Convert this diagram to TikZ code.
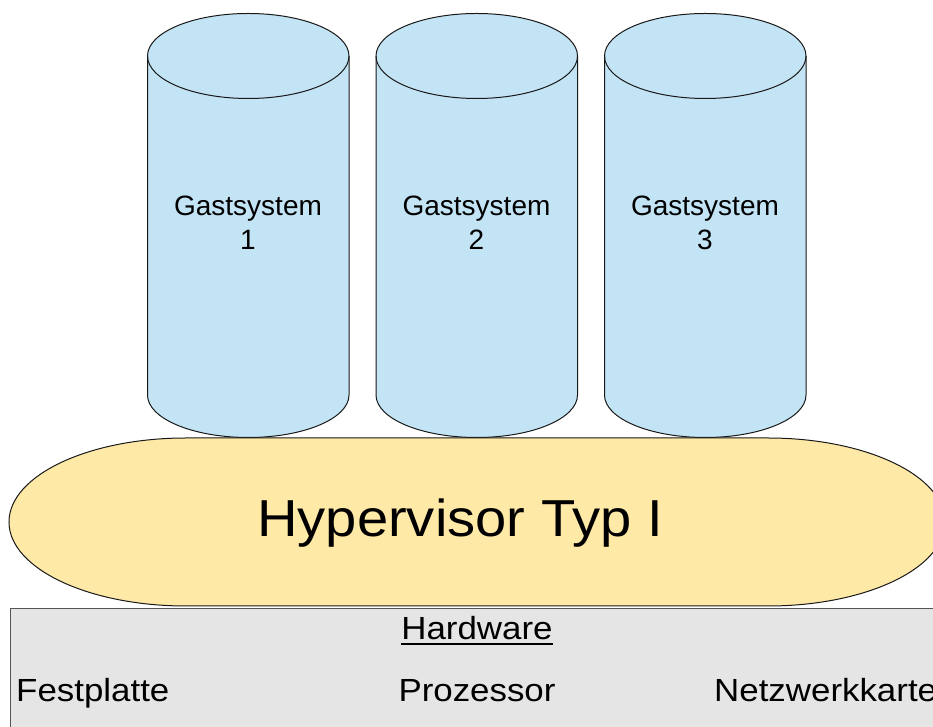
\documentclass[tikz,border=0pt]{standalone}
\usepackage{fontspec}
\setmainfont{Liberation Sans}
\definecolor{guestblue}{RGB}{195,228,245}
\definecolor{hvyellow}{RGB}{255,233,167}
\definecolor{hwgray}{RGB}{229,229,229}
\definecolor{hwline}{RGB}{85,85,85}
\tikzset{
  outline/.style={draw=black!90, line width=1pt},
  guesttext/.style={inner sep=0pt, align=center, font=\fontsize{28}{34}\selectfont},
  hwtext/.style={inner sep=0pt, font=\fontsize{32}{38}\selectfont},
}
\newcommand{\wide}[2]{\scalebox{#1}[1]{#2}}
% cylinder: left x, centre x, right x
\newcommand{\guestcyl}[3]{%
  \fill[guestblue] (#1,671) -- (#1,332)
    arc[start angle=180,end angle=360,x radius=100.75,y radius=42.5]
    -- (#3,671)
    arc[start angle=0,end angle=180,x radius=100.75,y radius=42.5] -- cycle;
  \draw[outline] (#1,671) -- (#1,332)
    arc[start angle=180,end angle=360,x radius=100.75,y radius=42.5]
    -- (#3,671);
  \draw[outline] (#2,671) ellipse[x radius=100.75,y radius=42.5];
}
\begin{document}
\begin{tikzpicture}[x=1pt,y=1pt]
  \useasboundingbox (0,0) rectangle (933,727);
  \clip (0,0) rectangle (933,727);

  % guest systems
  \guestcyl{147.5}{248.25}{349}
  \guestcyl{376}{476.75}{577.5}
  \guestcyl{604.5}{705.25}{806}
  \node[guesttext] (g1) at (248,504.5) {Gastsystem\\1};
  \node[guesttext] (g2) at (476.5,504.5) {Gastsystem\\2};
  \node[guesttext] (g3) at (705,504.5) {Gastsystem\\3};

  % hypervisor
  \filldraw[outline, fill=hvyellow] (186,289) -- (768,289)
    arc[start angle=90,end angle=-90,x radius=177,y radius=84]
    -- (186,121)
    arc[start angle=270,end angle=90,x radius=177,y radius=84] -- cycle;
  \node[inner sep=0pt, anchor=base, font=\fontsize{52}{60}\selectfont] (hv) at (460,190)
    {\wide{1.08}{Hypervisor Typ I}};

  % hardware
  \node[draw=hwline, line width=1pt, fill=hwgray, anchor=north west,
        minimum width=936pt, minimum height=140pt, inner sep=0pt] (hwbox) at (10,119) {};
  \node[hwtext, anchor=base] (hw) at (477,87) {\wide{1.09}{Hardware}};
  \draw[line width=2pt] ([yshift=-4.5pt]hw.base west) -- ([yshift=-4.5pt]hw.base east);
  \node[hwtext, anchor=base west] (disk) at (16,25.5) {\wide{1.09}{Festplatte}};
  \node[hwtext, anchor=base] (cpu) at (477,25.5) {\wide{1.09}{Prozessor}};
  \node[hwtext, anchor=base west] (nic) at (714,25.5) {\wide{1.09}{Netzwerkkarte}};
\end{tikzpicture}
\end{document}
